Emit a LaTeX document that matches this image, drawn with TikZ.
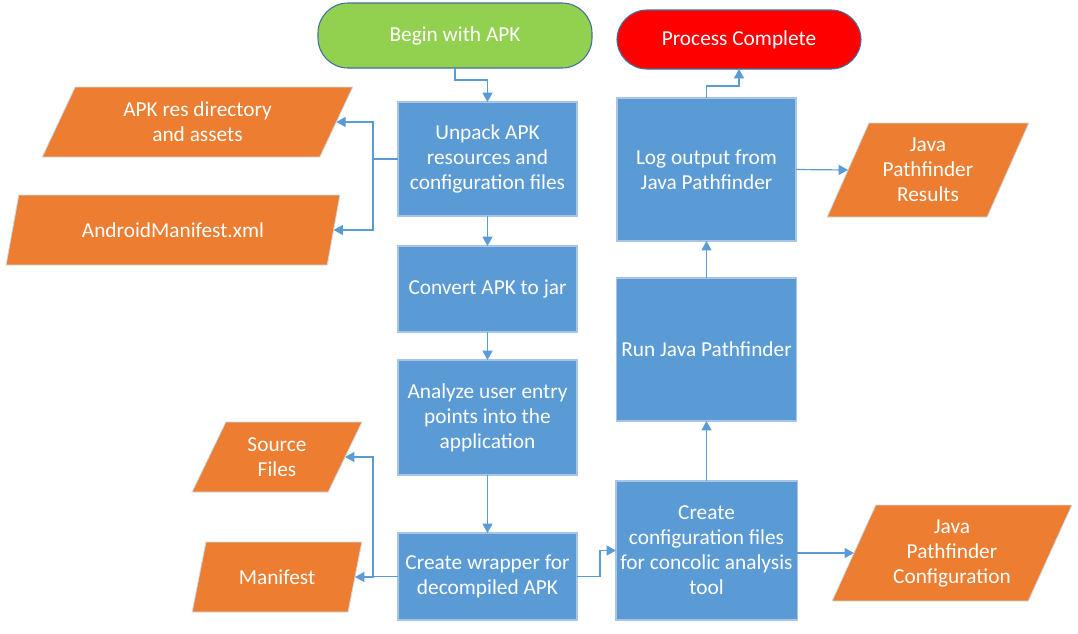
\documentclass[tikz,border=0pt]{standalone}
\usepackage{fontspec}
\setmainfont{Carlito}
\usetikzlibrary{shapes.geometric,arrows.meta,calc}
\definecolor{boxblue}{HTML}{5B9BD5}
\definecolor{boxedge}{HTML}{A9C4E4}
\definecolor{orangefill}{HTML}{ED7D31}
\definecolor{pillgreen}{HTML}{92D050}
\definecolor{pilledge}{HTML}{41719C}
\definecolor{arrowblue}{HTML}{5B9BD5}
\begin{document}
\begin{tikzpicture}[x=0.75pt,y=-0.75pt,
  every node/.style={font=\fontsize{16}{18.75}\selectfont, text=white, align=center, outer sep=0pt},
  procbox/.style={rectangle, fill=boxblue, draw=boxedge, line width=0.8pt, minimum width=179*0.75pt},
  datashape/.style={trapezium, trapezium left angle=63.43, trapezium right angle=116.57, trapezium stretches=true, fill=orangefill, draw=boxedge!60!white, line width=0.6pt, inner sep=0pt},
  pill/.style={rectangle, rounded corners=30*0.75pt, draw=pilledge, line width=0.8pt},
  arr/.style={draw=arrowblue, line width=0.9pt, -{Triangle[length=7pt,width=7.5pt]}},
  ]
\useasboundingbox (0,0) rectangle (1078,633);
% start / end
\node[pill, fill=pillgreen, minimum width=274*0.75pt, minimum height=65*0.75pt] (begin) at (455,35.5) {Begin with APK};
\node[pill, fill=red, minimum width=244*0.75pt, minimum height=59*0.75pt] (done) at (739,39.5) {Process Complete};
% left column
\node[procbox, minimum height=114*0.75pt] (unpack) at (487.5,159) {Unpack APK\\resources and\\configuration files};
\node[procbox, minimum height=86*0.75pt] (convert) at (487.5,289) {Convert APK to jar};
\node[procbox, minimum height=115*0.75pt] (analyze) at (487.5,417.5) {Analyze user entry\\points into the\\application};
\node[procbox, minimum height=87*0.75pt] (wrapper) at (487.5,576.5) {Create wrapper for\\decompiled APK};
% right column
\node[procbox, minimum height=143*0.75pt] (log) at (706.5,169.5) {Log output from\\Java Pathfinder};
\node[procbox, minimum height=143*0.75pt] (run) at (706.5,349.5) {Run Java Pathfinder};
\node[procbox, minimum height=139*0.75pt] (config) at (706.5,550.5) {Create\\configuration files\\for concolic analysis\\tool};
% data shapes
\node[datashape, minimum width=311*0.75pt, minimum height=70*0.75pt] (res) at (197.5,122) {APK res directory\\and assets};
\node[datashape, minimum width=334*0.75pt, minimum height=70*0.75pt] (manifestxml) at (173,230) {AndroidManifest.xml};
\node[datashape, minimum width=170*0.75pt, minimum height=70*0.75pt] (src) at (277,457) {Source\\Files};
\node[datashape, minimum width=170*0.75pt, minimum height=70*0.75pt] (man) at (277,577) {Manifest};
\node[datashape, minimum width=202*0.75pt, minimum height=94*0.75pt] (results) at (928,170) {Java\\Pathfinder\\Results};
\node[datashape, minimum width=240*0.75pt, minimum height=96*0.75pt] (jpfconf) at (952,553) {Java\\Pathfinder\\Configuration};
% connectors
\draw[arr] (begin.south) -- ++(0,12) -| (unpack.north);
\draw[arr] (unpack.west) -- ++(-25,0) |- (res.east);
\draw[arr] (unpack.west) -- ++(-25,0) |- (manifestxml.east);
\draw[arr] (unpack.south) -- (convert.north);
\draw[arr] (convert.south) -- (analyze.north);
\draw[arr] (analyze.south) -- (wrapper.north);
\draw[arr] (wrapper.west) -- ++(-25,0) |- (src.east);
\draw[arr] (wrapper.west) -- ++(-25,0) |- (man.east);
\draw[arr] (wrapper.east) -- ++(23,0) |- (config.west);
\draw[arr] (config.north) -- (run.south);
\draw[arr] (run.north) -- (log.south);
\draw[arr] (log.north) -- ++(0,-12) -| (done.south);
\draw[arr] (log.east) -- (results.west);
\draw[arr] (config.east |- jpfconf.west) -- (jpfconf.west);
\end{tikzpicture}
\end{document}
